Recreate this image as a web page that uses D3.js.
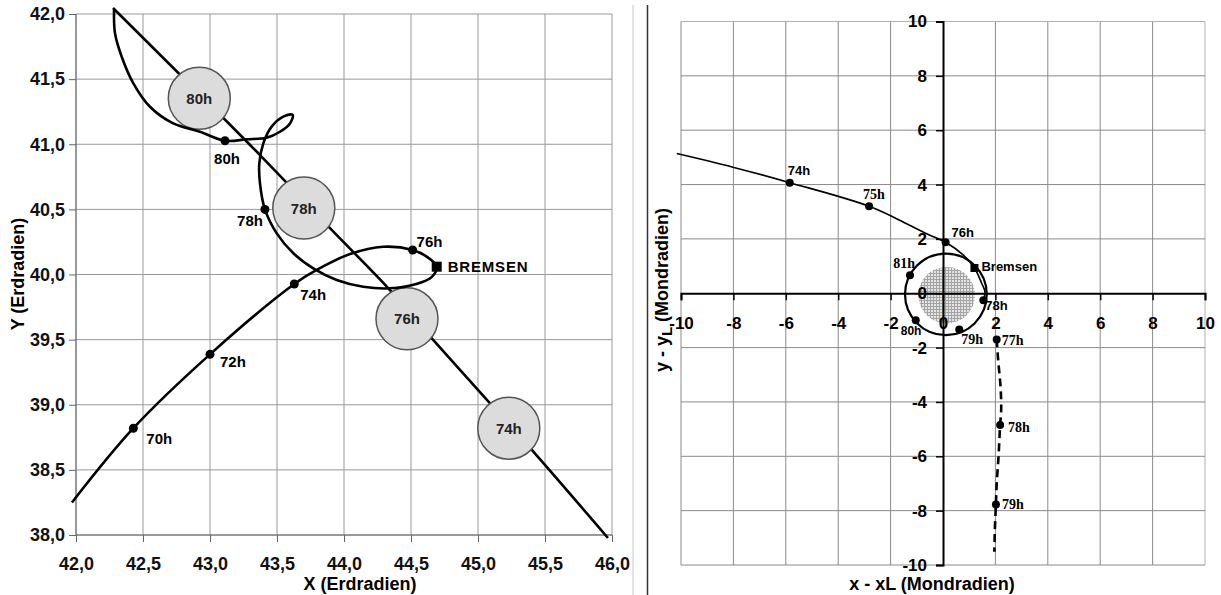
<!DOCTYPE html>
<html><head><meta charset="utf-8">
<script src="https://cdn.jsdelivr.net/npm/d3@7"></script>
<style>
html,body{margin:0;padding:0;background:#fff;}
svg{display:block;}
text{font-family:"Liberation Sans",Arial,sans-serif;}
</style></head><body>
<svg id="chart" width="1221" height="595"></svg>
<script>
// ---------------- Left chart data (Erdradien) ----------------
const leftXTicks = [42.0,42.5,43.0,43.5,44.0,44.5,45.0,45.5,46.0];
const leftXTickLabels = ["42,0","42,5","43,0","43,5","44,0","44,5","45,0","45,5","46,0"];
const leftYTicks = [38.0,38.5,39.0,39.5,40.0,40.5,41.0,41.5,42.0];
const leftYTickLabels = ["38,0","38,5","39,0","39,5","40,0","40,5","41,0","41,5","42,0"];

// spacecraft trajectory
const craftPathX = [41.97,42.428,43.0,43.629,43.796,44.045,44.293,44.512,44.617,44.692,44.654,44.54,44.343,44.144,43.945,43.771,43.622,43.498,43.41,43.373,43.368,43.398,43.46,43.547,43.617,43.597,43.522,43.423,43.274,43.112,42.925,42.726,42.552,42.428,42.341,42.291,42.284];
const craftPathY = [38.25,38.82,39.387,39.927,40.035,40.157,40.213,40.188,40.137,40.06,39.98,39.927,39.894,39.906,39.958,40.047,40.163,40.316,40.5,40.70,40.854,41.007,41.135,41.212,41.225,41.16,41.096,41.05,41.038,41.027,41.096,41.16,41.288,41.468,41.672,41.852,42.03];
const craftTimeX = [42.428,43.0,43.629,44.512,43.41,43.112];
const craftTimeY = [38.82,39.387,39.927,40.188,40.5,41.027];
const craftTimeLabels = ["70h","72h","74h","76h","78h","80h"];
const bremsenEarthX = 44.692, bremsenEarthY = 40.06;

// moon trajectory and positions
const moonPathX = [42.276,43.373,43.908,44.331,44.667,45.09,45.413,45.97];
const moonPathY = [42.046,40.917,40.342,39.894,39.497,39.011,38.64,37.977];
const moonPosX = [42.92,43.70,44.47,45.23];
const moonPosY = [41.353,40.51,39.66,38.82];
const moonPosLabels = ["80h","78h","76h","74h"];

// ---------------- Right chart data (Mondradien) ----------------
const rightTicks = [-10,-8,-6,-4,-2,0,2,4,6,8,10];
const rightTickLabels = ["-10","-8","-6","-4","-2","0","2","4","6","8","10"];

const approachX = [-10.16,-8.02,-5.85,-2.82,-1.39,-0.62,0.1,0.78,1.2,1.48,1.6,1.54];
const approachY = [5.14,4.64,4.07,3.2,2.56,2.19,1.875,1.40,0.93,0.36,0.05,-0.26];
const approachMarkX = [-5.85,-2.82,0.1];
const approachMarkY = [4.07,3.2,1.875];
const approachMarkLabels = ["74h","75h","76h"];

const orbitCenter = [0.11,-0.04];
const orbitRadius = [1.56,1.5];
const orbitMarkX = [1.54,0.62,-1.04,-1.26];
const orbitMarkY = [-0.26,-1.33,-0.99,0.66];
const orbitMarkLabels = ["78h","79h","80h","81h"];

const moonDiskCenter = [0.14,-0.07];
const moonDiskRadius = [1.08,1.04];

const flybyX = [2.05,2.1,2.2,2.22,2.18,2.12,2.05,2.02,1.98,1.96];
const flybyY = [-1.70,-2.4,-3.5,-4.3,-4.85,-6.0,-7.0,-7.77,-8.7,-9.51];
const flybyMarkX = [2.05,2.18,2.02];
const flybyMarkY = [-1.70,-4.85,-7.77];
const flybyMarkLabels = ["77h","78h","79h"];
const bremsenMoonX = 1.2, bremsenMoonY = 0.93;

// ---------------- drawing ----------------
const svg = d3.select("#chart");
svg.append("rect").attr("width",1221).attr("height",595).attr("fill","#fff");

const SANS = '"Liberation Sans",Arial,sans-serif';
const SERIF = '"Liberation Serif","Times New Roman",serif';

function label(g, px, py, txt, st){
  g.append("text")
    .attr("x", px + st.dx).attr("y", py + st.dy)
    .attr("text-anchor", st.anchor || "start")
    .attr("dominant-baseline","central")
    .style("font-family", st.serif ? SERIF : SANS)
    .style("font-weight", st.weight || "bold")
    .style("font-size", (st.size || 13) + "px")
    .style("letter-spacing", st.ls || "0px")
    .attr("fill","#000")
    .text(txt);
}

// ===== LEFT =====
const xL = d3.scaleLinear().domain([42,46]).range([76,612]);
const yL = d3.scaleLinear().domain([38,42]).range([535,14]);
const L = svg.append("g");

// outer frame line + separator
svg.append("line").attr("x1",633).attr("x2",633).attr("y1",5).attr("y2",595).attr("stroke","#c8c8c8").attr("stroke-width",1);
svg.append("line").attr("x1",647.5).attr("x2",647.5).attr("y1",5).attr("y2",595).attr("stroke","#333").attr("stroke-width",1.5);

// grid
L.append("g").selectAll("line").data(leftXTicks).join("line")
  .attr("x1",d=>xL(d)).attr("x2",d=>xL(d)).attr("y1",yL(42)).attr("y2",yL(38))
  .attr("stroke","#999").attr("stroke-width",1);
L.append("g").selectAll("line").data(leftYTicks).join("line")
  .attr("y1",d=>yL(d)).attr("y2",d=>yL(d)).attr("x1",xL(42)).attr("x2",xL(46))
  .attr("stroke","#999").attr("stroke-width",1);
L.append("line").attr("x1",xL(42)).attr("x2",xL(42)).attr("y1",yL(42)).attr("y2",yL(38)).attr("stroke","#666");
L.append("line").attr("x1",xL(42)).attr("x2",xL(46)).attr("y1",yL(38)).attr("y2",yL(38)).attr("stroke","#666");

// axes
const lxAxis = L.append("g").attr("transform",`translate(0,${yL(38)})`)
  .call(d3.axisBottom(xL).tickValues(leftXTicks).tickFormat((d,i)=>leftXTickLabels[i]).tickSize(7).tickPadding(15));
const lyAxis = L.append("g").attr("transform",`translate(${xL(42)},0)`)
  .call(d3.axisLeft(yL).tickValues(leftYTicks).tickFormat((d,i)=>leftYTickLabels[i]).tickSize(7).tickPadding(4));
[lxAxis,lyAxis].forEach(a=>{
  a.select(".domain").remove();
  a.selectAll(".tick line").attr("stroke","#666");
  a.selectAll(".tick text").style("font-family",SANS).style("font-weight","bold").style("font-size","18px").attr("fill","#111");
});

// titles
L.append("text").attr("transform","translate(24,274) rotate(-90)").attr("text-anchor","middle")
  .style("font-family",SANS).style("font-weight","bold").style("font-size","18px").text("Y (Erdradien)");
L.append("text").attr("x",360).attr("y",590).attr("text-anchor","middle")
  .style("font-family",SANS).style("font-weight","bold").style("font-size","18px").text("X (Erdradien)");

const curveL = d3.line().x(d=>xL(d[0])).y(d=>yL(d[1])).curve(d3.curveCatmullRom.alpha(0.5));
// moon line
L.append("path").attr("d",curveL(moonPathX.map((x,i)=>[x,moonPathY[i]])))
  .attr("fill","none").attr("stroke","#000").attr("stroke-width",2.6);
// moon circles
const mc = L.append("g").selectAll("g").data(moonPosX.map((x,i)=>({x,y:moonPosY[i],t:moonPosLabels[i]}))).join("g");
mc.append("circle").attr("cx",d=>xL(d.x)).attr("cy",d=>yL(d.y)).attr("r",31)
  .attr("fill","#dcdcdc").attr("stroke","#555").attr("stroke-width",1.5);
mc.append("text").attr("x",d=>xL(d.x)).attr("y",d=>yL(d.y)).attr("text-anchor","middle").attr("dominant-baseline","central")
  .style("font-family",SANS).style("font-size","15px").style("font-weight","bold").attr("fill","#222").text(d=>d.t);
// spacecraft path
L.append("path").attr("d",curveL(craftPathX.map((x,i)=>[x,craftPathY[i]])))
  .attr("fill","none").attr("stroke","#000").attr("stroke-width",2.6).attr("stroke-linejoin","round");
// markers
const leftLabelStyle = [
  {dx:13,dy:10},{dx:10,dy:7},{dx:6,dy:10},{dx:4,dy:-9},{dx:-2,dy:11,anchor:"end"},{dx:2,dy:18,anchor:"middle"}
];
craftTimeX.forEach((x,i)=>{
  L.append("circle").attr("cx",xL(x)).attr("cy",yL(craftTimeY[i])).attr("r",4.5).attr("fill","#000");
  label(L, xL(x), yL(craftTimeY[i]), craftTimeLabels[i], Object.assign({size:15}, leftLabelStyle[i]));
});
L.append("rect").attr("x",xL(bremsenEarthX)-5).attr("y",yL(bremsenEarthY)-5).attr("width",10).attr("height",10).attr("fill","#000");
label(L, xL(bremsenEarthX), yL(bremsenEarthY), "BREMSEN", {dx:11,dy:0,size:15,ls:"0.8px"});

// ===== RIGHT =====
const xR = d3.scaleLinear().domain([-10,10]).range([681,1205]);
const yR = d3.scaleLinear().domain([-10,10]).range([565,21.5]);
const R = svg.append("g");

const defs = svg.append("defs");
const pat = defs.append("pattern").attr("id","dots").attr("patternUnits","userSpaceOnUse").attr("width",3).attr("height",3);
pat.append("rect").attr("width",3).attr("height",3).attr("fill","#e4e4e4");
pat.append("path").attr("d","M0 0.5H3M0.5 0V3").attr("stroke","#a4a4a4").attr("stroke-width",1);

// grid
R.append("g").selectAll("line").data(rightTicks.filter(d=>d!==0)).join("line")
  .attr("x1",d=>xR(d)).attr("x2",d=>xR(d)).attr("y1",yR(10)).attr("y2",yR(-10))
  .attr("stroke",d=>d===10?"#b0b0b0":"#8a8a8a").attr("stroke-width",1);
R.append("g").selectAll("line").data(rightTicks.filter(d=>d!==0)).join("line")
  .attr("y1",d=>yR(d)).attr("y2",d=>yR(d)).attr("x1",xR(-10)).attr("x2",xR(10))
  .attr("stroke",d=>d===10?"#b0b0b0":"#8a8a8a").attr("stroke-width",1);

// moon disk
R.append("ellipse").attr("cx",xR(moonDiskCenter[0])).attr("cy",yR(moonDiskCenter[1]))
  .attr("rx",xR(moonDiskRadius[0])-xR(0)).attr("ry",yR(0)-yR(moonDiskRadius[1]))
  .attr("fill","url(#dots)");

// axes at zero
const rxAxis = R.append("g").attr("transform",`translate(0,${yR(0)})`)
  .call(d3.axisBottom(xR).tickValues(rightTicks).tickFormat((d,i)=>rightTickLabels[i]).tickSize(7).tickPadding(17));
const ryAxis = R.append("g").attr("transform",`translate(${xR(0)},0)`)
  .call(d3.axisLeft(yR).tickValues(rightTicks).tickFormat((d,i)=>rightTickLabels[i]).tickSize(7).tickPadding(9));
[rxAxis,ryAxis].forEach(a=>{
  a.select(".domain").attr("stroke","#000").attr("stroke-width",2);
  a.selectAll(".tick line").attr("stroke","#000").attr("stroke-width",1.5);
  a.selectAll(".tick text").style("font-family",SANS).style("font-weight","bold").style("font-size","17px").attr("fill","#000");
});

// titles
const yt = R.append("text").attr("transform","translate(668,290) rotate(-90)").attr("text-anchor","middle")
  .style("font-family",SANS).style("font-weight","bold").style("font-size","18px");
yt.append("tspan").text("y - y");
yt.append("tspan").attr("dy",4).style("font-size","15px").text("L");
yt.append("tspan").attr("dy",-4).text(" (Mondradien)");
R.append("text").attr("x",932).attr("y",590).attr("text-anchor","middle")
  .style("font-family",SANS).style("font-weight","bold").style("font-size","18px").text("x - xL (Mondradien)");

const curveR = d3.line().x(d=>xR(d[0])).y(d=>yR(d[1])).curve(d3.curveCatmullRom.alpha(0.5));
// orbit
R.append("ellipse").attr("cx",xR(orbitCenter[0])).attr("cy",yR(orbitCenter[1]))
  .attr("rx",xR(orbitRadius[0])-xR(0)).attr("ry",yR(0)-yR(orbitRadius[1]))
  .attr("fill","none").attr("stroke","#000").attr("stroke-width",2.2);
// approach
R.append("path").attr("d",curveR(approachX.map((x,i)=>[x,approachY[i]])))
  .attr("fill","none").attr("stroke","#000").attr("stroke-width",1.6);
// flyby (dashed)
R.append("path").attr("d",curveR(flybyX.map((x,i)=>[x,flybyY[i]])))
  .attr("fill","none").attr("stroke","#000").attr("stroke-width",2.6).attr("stroke-dasharray","8,5");

const approachStyle = [{dx:-2,dy:-12},{dx:-6,dy:-12,serif:true,size:14},{dx:6,dy:-10}];
const orbitStyle = [{dx:2,dy:5},{dx:2,dy:10,serif:true,size:14},{dx:-15,dy:11,size:12},{dx:5,dy:-12,anchor:"end",serif:true,size:14}];
const flybyStyle = [{dx:5,dy:1,serif:true,size:14},{dx:8,dy:2,serif:true,size:14},{dx:6,dy:0,serif:true,size:14}];
function marks(xs,ys,labs,styles){
  xs.forEach((x,i)=>{
    R.append("circle").attr("cx",xR(x)).attr("cy",yR(ys[i])).attr("r",4).attr("fill","#000");
    label(R, xR(x), yR(ys[i]), labs[i], styles[i]);
  });
}
marks(approachMarkX,approachMarkY,approachMarkLabels,approachStyle);
marks(orbitMarkX,orbitMarkY,orbitMarkLabels,orbitStyle);
marks(flybyMarkX,flybyMarkY,flybyMarkLabels,flybyStyle);
R.append("rect").attr("x",xR(bremsenMoonX)-4).attr("y",yR(bremsenMoonY)-4).attr("width",8).attr("height",8).attr("fill","#000");
label(R, xR(bremsenMoonX), yR(bremsenMoonY), "Bremsen", {dx:7,dy:-1});
</script>
</body></html>
